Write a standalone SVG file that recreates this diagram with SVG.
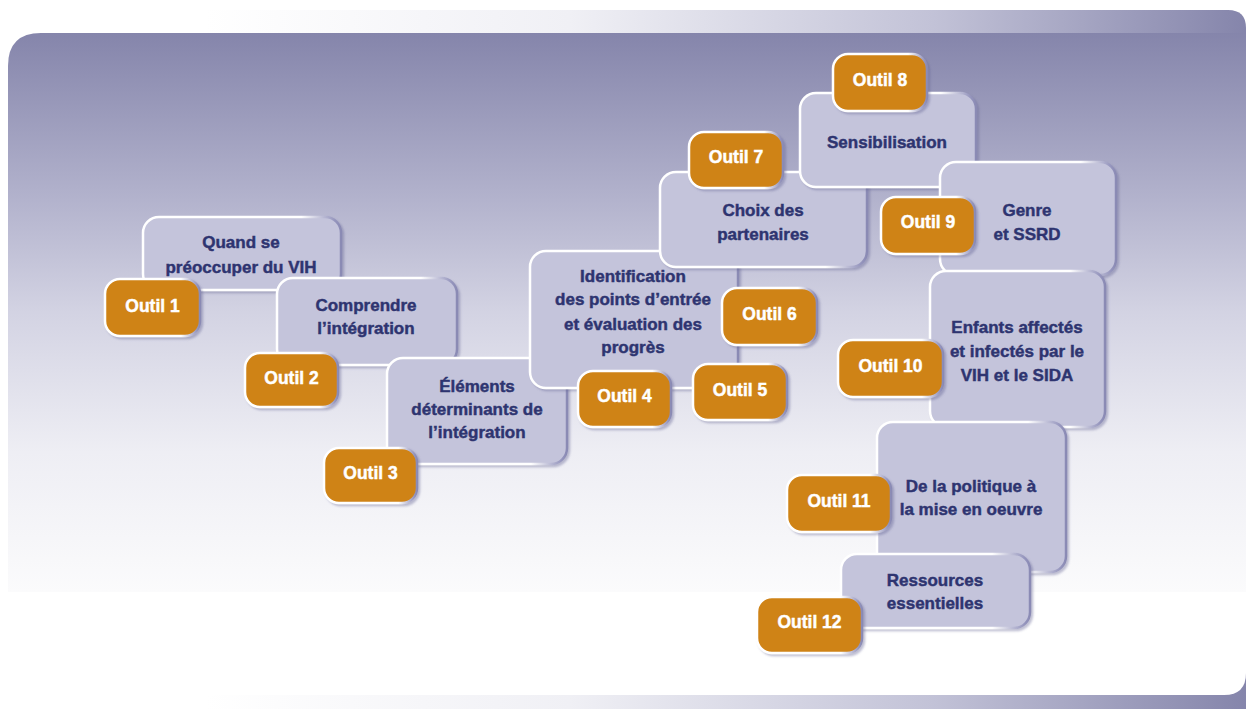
<svg xmlns="http://www.w3.org/2000/svg" width="1246" height="709" viewBox="0 0 1246 709">
<defs>
<linearGradient id="band" x1="205" y1="0" x2="1246" y2="0" gradientUnits="userSpaceOnUse">
<stop offset="0" stop-color="#ffffff"/><stop offset="0.35" stop-color="#f0f0f5"/><stop offset="0.7" stop-color="#c2c2d7"/><stop offset="1" stop-color="#8585ab"/>
</linearGradient>
<linearGradient id="panel" x1="0" y1="33" x2="0" y2="592" gradientUnits="userSpaceOnUse">
<stop offset="0" stop-color="#8585ab"/><stop offset="0.3" stop-color="#b3b3cd"/><stop offset="0.5" stop-color="#d3d3e3"/><stop offset="0.75" stop-color="#eeeef4"/><stop offset="1" stop-color="#fbfbfc"/>
</linearGradient>
<linearGradient id="edge" x1="0" y1="0" x2="1" y2="0">
<stop offset="0" stop-color="#ffffff"/><stop offset="0.8" stop-color="#ffffff"/><stop offset="0.97" stop-color="#9595bd"/><stop offset="1" stop-color="#8a8ab4"/>
</linearGradient>
<filter id="sh" x="-10%" y="-10%" width="125%" height="125%">
<feDropShadow dx="2" dy="2" stdDeviation="1.2" flood-color="#5e5e92" flood-opacity="0.4"/>
</filter>
<style>
.box{fill:#c4c4db;stroke:url(#edge);stroke-width:2.5;filter:url(#sh)}
.tab{fill:#cf8317;stroke:url(#edge);stroke-width:2.5;filter:url(#sh)}
.bt{font-family:"Liberation Sans",Arial,sans-serif;font-weight:bold;font-size:17px;fill:#2e3470;stroke:#2e3470;stroke-width:0.45;text-anchor:middle}
.tt{font-family:"Liberation Sans",Arial,sans-serif;font-weight:bold;font-size:17.5px;fill:#ffffff;stroke:#ffffff;stroke-width:0.45;text-anchor:middle}
</style>
</defs>
<g id="background">
<rect x="0" y="0" width="1246" height="709" fill="#ffffff"/>
<path d="M205 10 H1228 Q1246 10 1246 28 V60 H205 Z" fill="url(#band)"/>
<path d="M205 670 H1246 V709 H205 Z" fill="url(#band)"/>
<path d="M8 66 Q8 33 41 33 H1246 V592 H8 Z" fill="url(#panel)"/>
<path d="M0 592 H1246 V673 Q1246 695 1224 695 H0 Z" fill="#ffffff"/>
</g>
<g id="connectors"/>
<g id="node1">
<rect class="box" x="143" y="217" width="198" height="73" rx="16"/>
<text class="bt" x="241" y="248">Quand se</text>
<text class="bt" x="241" y="273">préoccuper du VIH</text>
<rect class="tab" x="105" y="279" width="95" height="57" rx="15"/>
<text class="tt" x="152.5" y="312">Outil 1</text>
</g>
<g id="node2">
<rect class="box" x="277" y="278" width="180" height="87" rx="16"/>
<text class="bt" x="366" y="311">Comprendre</text>
<text class="bt" x="366" y="334">l’intégration</text>
<rect class="tab" x="245" y="353" width="93" height="54" rx="15"/>
<text class="tt" x="291.5" y="384">Outil 2</text>
</g>
<g id="node3">
<rect class="box" x="387" y="358" width="180" height="106" rx="16"/>
<text class="bt" x="477" y="392">Éléments</text>
<text class="bt" x="477" y="415">déterminants de</text>
<text class="bt" x="477" y="438">l’intégration</text>
<rect class="tab" x="324" y="448" width="93" height="55" rx="15"/>
<text class="tt" x="370.5" y="479">Outil 3</text>
</g>
<g id="node4">
<rect class="box" x="530" y="251" width="208" height="137" rx="16"/>
<text class="bt" x="633" y="282">Identification</text>
<text class="bt" x="633" y="305">des points d’entrée</text>
<text class="bt" x="633" y="330">et évaluation des</text>
<text class="bt" x="633" y="353">progrès</text>
<rect class="tab" x="578" y="371" width="93" height="56" rx="15"/>
<text class="tt" x="624.5" y="402">Outil 4</text>
</g>
<g id="node5">
<rect class="tab" x="693" y="364" width="94" height="56" rx="15"/>
<text class="tt" x="740" y="396">Outil 5</text>
</g>
<g id="node6">
<rect class="tab" x="722" y="288" width="95" height="57" rx="15"/>
<text class="tt" x="769.5" y="320">Outil 6</text>
</g>
<g id="node7">
<rect class="box" x="660" y="172" width="207" height="95" rx="16"/>
<text class="bt" x="763" y="216">Choix des</text>
<text class="bt" x="763" y="240">partenaires</text>
<rect class="tab" x="689" y="132" width="94" height="56" rx="15"/>
<text class="tt" x="736" y="163">Outil 7</text>
</g>
<g id="node8">
<rect class="box" x="800" y="93" width="176" height="94" rx="16"/>
<text class="bt" x="887" y="148">Sensibilisation</text>
<rect class="tab" x="833" y="54" width="94" height="57" rx="15"/>
<text class="tt" x="880" y="86">Outil 8</text>
</g>
<g id="node9">
<rect class="box" x="940" y="162" width="176" height="113" rx="16"/>
<text class="bt" x="1027" y="216">Genre</text>
<text class="bt" x="1027" y="240">et SSRD</text>
<rect class="tab" x="881" y="197" width="94" height="57" rx="15"/>
<text class="tt" x="928" y="228">Outil 9</text>
</g>
<g id="node10">
<rect class="box" x="930" y="271" width="175" height="156" rx="16"/>
<text class="bt" x="1017" y="333">Enfants affectés</text>
<text class="bt" x="1017" y="357">et infectés par le</text>
<text class="bt" x="1017" y="381">VIH et le SIDA</text>
<rect class="tab" x="838" y="340" width="105" height="57" rx="15"/>
<text class="tt" x="890.5" y="372">Outil 10</text>
</g>
<g id="node11">
<rect class="box" x="877" y="422" width="189" height="150" rx="16"/>
<text class="bt" x="971" y="492">De la politique à</text>
<text class="bt" x="971" y="515">la mise en oeuvre</text>
<rect class="tab" x="787" y="475" width="104" height="57" rx="15"/>
<text class="tt" x="839" y="507">Outil 11</text>
</g>
<g id="node12">
<rect class="box" x="841" y="554" width="189" height="74" rx="16"/>
<text class="bt" x="935" y="586">Ressources</text>
<text class="bt" x="935" y="609">essentielles</text>
<rect class="tab" x="757" y="597" width="105" height="56" rx="15"/>
<text class="tt" x="809.5" y="628">Outil 12</text>
</g>
</svg>
